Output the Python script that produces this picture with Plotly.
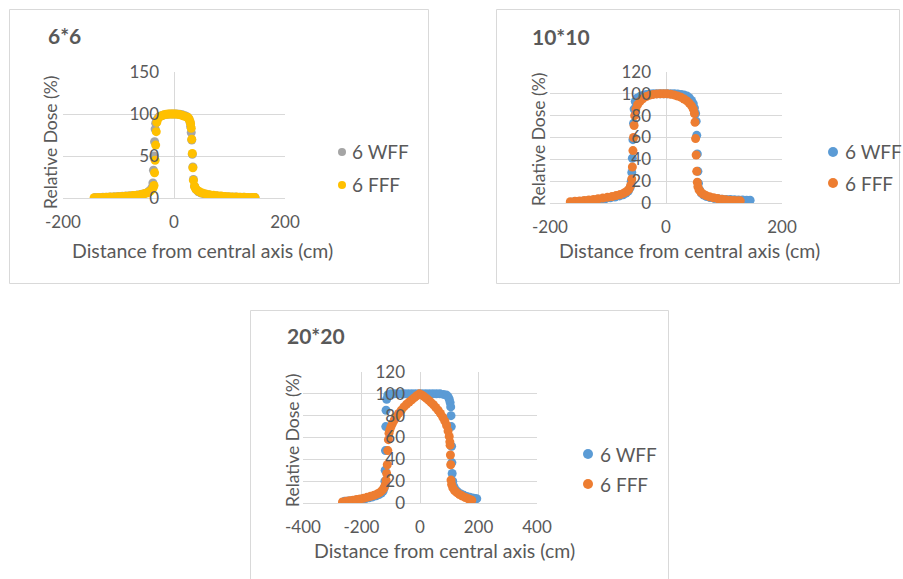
import plotly.graph_objects as go

# ---------------- data ----------------
titles = ["6*6", "10*10", "20*20"]
series_names = ["6 WFF", "6 FFF"]
x_title = "Distance from central axis (cm)"
y_title = "Relative Dose (%)"

# 6*6 field
x6_wff = [-142, -135, -128, -121, -114, -107, -100, -93, -86, -79,
          -72, -65, -58, -52, -47, -43, -40, -38, -37, -36,
          -35, -34, -33, -31, -28, -24, -20, -15, -10, -5,
          0, 5, 10, 15, 20, 24, 27, 29, 30, 31,
          32, 33, 34, 35, 37, 40, 44, 49, 55, 62,
          69, 76, 83, 90, 97, 104, 111, 118, 125, 132,
          139, 146]
y6_wff = [0.5, 0.6, 0.8, 1.0, 1.2, 1.4, 1.7, 2.0, 2.3, 2.7,
          3.1, 3.7, 4.5, 5.5, 7, 9, 12, 18, 33, 50,
          67, 82, 89, 93, 96, 97.5, 98.5, 99.3, 99.8, 100,
          100, 100, 99.7, 99, 98, 96.5, 94, 90, 85, 78,
          69, 52, 37, 22, 14, 10, 7.5, 6, 4.8, 3.8,
          3.1, 2.6, 2.2, 1.8, 1.5, 1.3, 1.1, 0.9, 0.8, 0.7,
          0.6, 0.5]
x6_fff = [-144, -137, -130, -123, -116, -109, -102, -95, -88, -81,
          -74, -67, -60, -54, -49, -45, -42, -39, -37, -36,
          -35, -34, -33, -32, -31, -29, -26, -22, -18, -14,
          -10, -6, -2, 2, 6, 10, 14, 18, 22, 25,
          27, 29, 30, 31, 32, 33, 34, 35, 37, 39,
          42, 46, 51, 57, 64, 71, 78, 85, 92, 99,
          106, 113, 120, 127, 134, 141, 146]
y6_fff = [0.4, 0.5, 0.7, 0.9, 1.1, 1.3, 1.5, 1.8, 2.1, 2.5,
          2.9, 3.4, 4.1, 5.0, 6.0, 7.2, 8.5, 10.5, 13, 15,
          30, 45, 63, 79, 90, 94, 96.5, 98, 99, 99.6,
          100, 100, 100, 100, 99.8, 99.3, 98.5, 97.5, 96.5, 96,
          94, 91, 88, 83, 70, 53, 36, 21, 14, 11,
          9, 7.3, 6.0, 4.9, 4.0, 3.3, 2.7, 2.3, 1.9, 1.6,
          1.3, 1.1, 0.9, 0.8, 0.7, 0.6, 0.5]

# 10*10 field
x10_wff = [-160, -152, -144, -136, -128, -120, -112, -104, -96, -88,
           -80, -74, -69, -65, -62, -60, -59, -58, -57, -56,
           -55, -53, -50, -45, -40, -34, -28, -22, -16, -10,
           -4, 2, 8, 14, 20, 26, 31, 36, 40, 44,
           47, 49, 51, 52, 53, 54, 55, 56, 58, 61,
           65, 70, 76, 83, 90, 97, 104, 111, 118, 125,
           132, 139, 145]
y10_wff = [1.0, 1.3, 1.6, 2.0, 2.4, 2.9, 3.4, 4.0, 4.7, 5.5,
           6.5, 7.6, 9, 11, 14, 20, 28, 41, 58, 73,
           86, 93, 96, 97.5, 98.5, 99.3, 99.8, 100, 100, 100,
           100, 100, 100, 100, 99.8, 99.5, 99, 98, 96.5, 94,
           91, 87, 82, 75, 62, 45, 29, 18, 12, 9,
           7.2, 6, 5, 4.2, 3.8, 3.5, 3.3, 3.1, 2.9, 2.8,
           2.7, 2.6, 2.5]
x10_fff = [-165, -157, -149, -141, -133, -125, -117, -109, -101, -93,
           -86, -79, -73, -68, -64, -61, -59, -58, -57, -56,
           -55, -54, -52, -49, -45, -40, -34, -28, -22, -16,
           -10, -4, 2, 8, 14, 20, 26, 31, 36, 40,
           44, 47, 49, 50, 51, 52, 53, 54, 55, 57,
           60, 64, 69, 75, 82, 89, 96, 103, 110, 117,
           123, 128]
y10_fff = [1.2, 1.5, 1.9, 2.3, 2.8, 3.3, 3.9, 4.5, 5.2, 6.0,
           6.8, 7.8, 9, 10.5, 12.5, 16, 22, 33, 48, 60,
           71, 80, 86, 90, 93, 95.5, 97.5, 98.8, 99.5, 99.9,
           100, 100, 100, 99.6, 99, 98, 96.8, 95.3, 93.5, 91.5,
           89, 86, 82, 74, 59, 44, 29, 19, 15, 12,
           10, 8.2, 6.8, 5.7, 4.8, 4.1, 3.5, 3.0, 2.6, 2.3,
           2.1, 2.0]

# 20*20 field
x20_wff = [-258, -246, -234, -222, -210, -198, -186, -174, -162, -150,
           -140, -132, -126, -122, -120, -119, -118, -117, -116, -114,
           -110, -100, -88, -76, -64, -52, -40, -28, -16, -4,
           8, 20, 32, 44, 56, 68, 80, 90, 96, 100,
           103, 105, 106, 107, 108, 109, 110, 112, 116, 122,
           130, 140, 150, 160, 170, 180, 188, 194]
y20_wff = [1.5, 1.8, 2.1, 2.5, 3.0, 3.5, 4.1, 4.8, 5.6, 6.6,
           7.8, 9.2, 11, 14, 20, 30, 48, 70, 85, 95,
           99, 100, 100, 100, 100, 100, 100, 100, 100, 100,
           100, 100, 100, 100, 100, 100, 99.5, 99, 97.5, 95,
           92, 88, 80, 70, 52, 37, 27, 20, 15, 12,
           10, 8.3, 7, 6, 5.2, 4.6, 4.2, 4]
x20_fff = [-265, -253, -241, -229, -217, -205, -193, -181, -169, -157,
           -146, -137, -130, -124, -119, -116, -114, -112, -110, -108,
           -106, -103, -99, -94, -88, -81, -73, -64, -55, -46,
           -37, -28, -19, -10, -2, 6, 14, 22, 30, 38,
           46, 54, 62, 70, 78, 85, 91, 96, 100, 102,
           103, 104, 105, 106, 108, 112, 118, 126, 135, 145,
           155, 165, 172, 177]
y20_fff = [1.0, 1.5, 2.0, 2.5, 3.1, 3.7, 4.4, 5.2, 6.1, 7.1,
           8.3, 9.7, 11.3, 13.5, 16.5, 21, 27, 35, 48, 58,
           64, 67, 70, 73, 76, 79, 82, 85, 88, 90.5,
           92.5, 94.5, 96.5, 98.5, 100, 99, 97.5, 95.8, 94, 92,
           90, 87.5, 85, 82, 78.5, 75, 71, 66, 61, 56,
           53, 44, 35, 21, 17, 14, 11.5, 9.5, 7.8, 6.3,
           5, 3.8, 3, 2.5]

x_ranges = [[-200, 200], [-200, 200], [-400, 400]]
y_ranges = [[0, 150], [0, 120], [0, 120]]
y_dticks = [50, 20, 20]
x_tickvals = [[-200, 0, 200], [-200, 0, 200], [-400, -200, 0, 200, 400]]
x_ticktext = [["-200", "0", "200"], ["-200", "0", "200"], ["-400", "-200", "0", "200", "400"]]

panel_data = [
    ((x6_wff, y6_wff), (x6_fff, y6_fff)),
    ((x10_wff, y10_wff), (x10_fff, y10_fff)),
    ((x20_wff, y20_wff), (x20_fff, y20_fff)),
]
panel_colors = [("#A5A5A5", "#FFC000"), ("#5B9BD5", "#ED7D31"), ("#5B9BD5", "#ED7D31")]

# ---------------- layout (pixel geometry) ----------------
W, H = 903, 579
def px(x):
    return x / W
def py(y):
    return 1 - y / H

plot_px = [(63, 285, 72, 198), (550, 782, 72, 203), (303, 537, 372, 503)]
frame_px = [(9.5, 428.5, 9.5, 283.5), (496.5, 899.5, 9.5, 283.5), (250.5, 668.5, 310.5, 600)]
title_px = [(46, 35), (530, 36), (285, 335)]
xtitle_px = [(202, 250), (689, 250), (444, 550)]
ytitle_px = [(50, 143), (538, 140), (292, 441)]
# legend: marker centre x, first row y, second row y, text start x
legend_px = [(342, 152, 185, 350), (833, 152, 183, 843), (588, 454, 484, 598)]
legend_r = [4, 5, 5]

TXT = "#595959"
GRID = "#D9D9D9"
FONT = "Lato"

fig = go.Figure()
annotations = []
shapes = []
layout_axes = {}

for i in range(3):
    sfx = "" if i == 0 else str(i + 1)
    xa, ya = "x" + sfx, "y" + sfx
    for j in range(2):
        xs, ys = panel_data[i][j]
        fig.add_trace(go.Scatter(
            x=xs, y=ys, mode="markers", name=series_names[j],
            marker=dict(color=panel_colors[i][j], size=9, line=dict(width=0)),
            xaxis=xa, yaxis=ya, showlegend=False, hoverinfo="skip",
        ))
    l, r, t, b = plot_px[i]
    layout_axes["xaxis" + sfx] = dict(
        domain=[px(l), px(r)], range=x_ranges[i],
        tickmode="array", tickvals=x_tickvals[i], ticktext=x_ticktext[i],
        anchor=ya, showgrid=True, gridcolor=GRID, gridwidth=1,
        zeroline=False, showline=True, linecolor=GRID, linewidth=1,
        ticks="", ticklabelstandoff=9,
        tickfont=dict(family=FONT, size=17, color=TXT), fixedrange=True,
    )
    layout_axes["yaxis" + sfx] = dict(
        domain=[py(b), py(t)], range=y_ranges[i], dtick=y_dticks[i], tick0=0,
        anchor="free", position=px((l + r) / 2),
        showgrid=True, gridcolor=GRID, gridwidth=1, zeroline=False,
        showline=False, ticks="", ticklabelstandoff=15,
        tickfont=dict(family=FONT, size=17, color=TXT), fixedrange=True,
    )
    fl, fr, ft, fb = frame_px[i]
    shapes.append(dict(type="rect", xref="paper", yref="paper",
                       x0=px(fl), x1=px(fr), y0=py(fb), y1=py(ft),
                       line=dict(color=GRID, width=1), layer="below"))
    tx, ty = title_px[i]
    annotations.append(dict(text="<b>" + titles[i] + "</b>", x=px(tx), y=py(ty),
                            xref="paper", yref="paper", xanchor="left", yanchor="middle",
                            showarrow=False, font=dict(family=FONT, size=21, color=TXT)))
    ax_, ay_ = xtitle_px[i]
    annotations.append(dict(text=x_title, x=px(ax_), y=py(ay_), xref="paper", yref="paper",
                            xanchor="center", yanchor="middle", showarrow=False,
                            font=dict(family=FONT, size=19.5, color=TXT)))
    bx, by = ytitle_px[i]
    annotations.append(dict(text=y_title, x=px(bx), y=py(by), xref="paper", yref="paper",
                            xanchor="center", yanchor="middle", textangle=-90, showarrow=False,
                            font=dict(family=FONT, size=17.5, color=TXT)))
    # legend drawn as marker circles + text
    mx, r1, r2, tx0 = legend_px[i]
    rr = legend_r[i]
    for j, ry in enumerate((r1, r2)):
        shapes.append(dict(type="circle", xref="paper", yref="paper",
                           x0=px(mx - rr), x1=px(mx + rr), y0=py(ry + rr), y1=py(ry - rr),
                           fillcolor=panel_colors[i][j], line=dict(width=0)))
        annotations.append(dict(text=series_names[j], x=px(tx0), y=py(ry),
                                xref="paper", yref="paper", xanchor="left", yanchor="middle",
                                showarrow=False, font=dict(family=FONT, size=19, color=TXT)))

fig.update_layout(
    width=W, height=H, margin=dict(l=0, r=0, t=0, b=0, autoexpand=False),
    paper_bgcolor="white", plot_bgcolor="white",
    showlegend=False, annotations=annotations, shapes=shapes,
    font=dict(family=FONT, color=TXT),
    **layout_axes,
)

fig.write_html("out.html", config={"displayModeBar": False},
               post_script="document.body.style.margin='0';document.body.style.overflow='hidden';")
